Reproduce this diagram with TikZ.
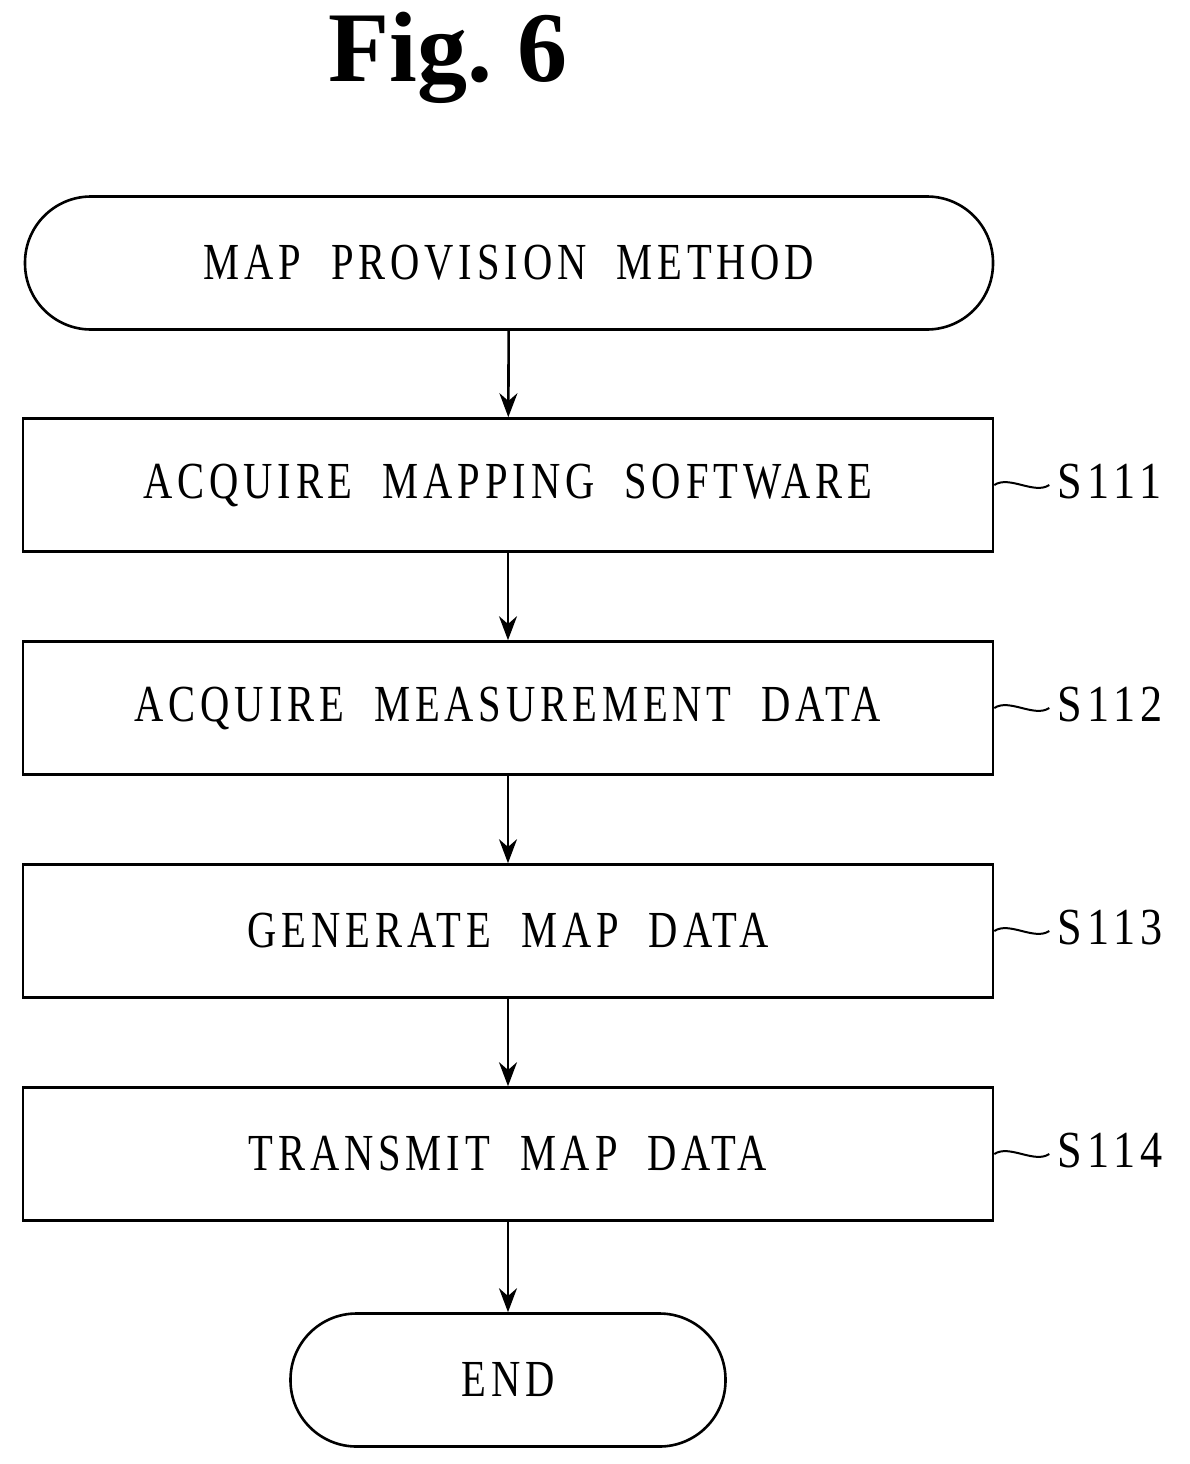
\documentclass[tikz,border=0pt]{standalone}
\usepackage{fontspec}
\setmainfont{Liberation Serif}
\newfontfamily\spaced[LetterSpace=12]{Liberation Serif}
\usetikzlibrary{arrows.meta}
\begin{document}
\begin{tikzpicture}[x=1pt,y=-1pt,line width=2.6pt,
  box/.style={draw,minimum width=970pt,minimum height=133pt,inner sep=0pt,font=\spaced\fontsize{52}{56}\selectfont},
  term/.style={draw,rounded corners=66pt,minimum height=133pt,inner sep=0pt,font=\spaced\fontsize{52}{56}\selectfont},
  arr/.style={-{Stealth[length=24pt,width=18pt]}},
  lab/.style={anchor=west,font=\spaced\fontsize{52}{56}\selectfont}]
\useasboundingbox (0,0) rectangle (1190,1464);
\node (title) at (448,58) {\fontsize{100}{104}\selectfont\bfseries Fig.~6};
\node[term,minimum width=968pt] (start) at (509,263) {\scalebox{0.78}[1]{MAP\ \ PROVISION\ \ METHOD}};
\node[box] (s1) at (508,485) {\scalebox{0.78}[1]{ACQUIRE\ \ MAPPING\ \ SOFTWARE}};
\node[box] (s2) at (508,708) {\scalebox{0.78}[1]{ACQUIRE\ \ MEASUREMENT\ \ DATA}};
\node[box] (s3) at (508,931) {\scalebox{0.78}[1]{GENERATE\ \ MAP\ \ DATA}};
\node[box] (s4) at (508,1154) {\scalebox{0.78}[1]{TRANSMIT\ \ MAP\ \ DATA}};
\node[term,minimum width=435pt] (end) at (508,1380) {\scalebox{0.78}[1]{END}};
\draw[arr] (start) -- (s1);
\draw[arr] (s1) -- (s2);
\draw[arr] (s2) -- (s3);
\draw[arr] (s3) -- (s4);
\draw[arr] (s4) -- (end);
\foreach \n/\t in {s1/S111,s2/S112,s3/S113,s4/S114}{
  \coordinate (w\n) at ([xshift=55pt]\n.east);
  \draw[line width=2pt] (\n.east) .. controls +(15,-10) and +(-15,10) .. (w\n);
  \node[lab] (l\n) at ([xshift=4pt,yshift=3pt]w\n) {\scalebox{0.85}[1]{\t}};
}
\end{tikzpicture}
\end{document}
